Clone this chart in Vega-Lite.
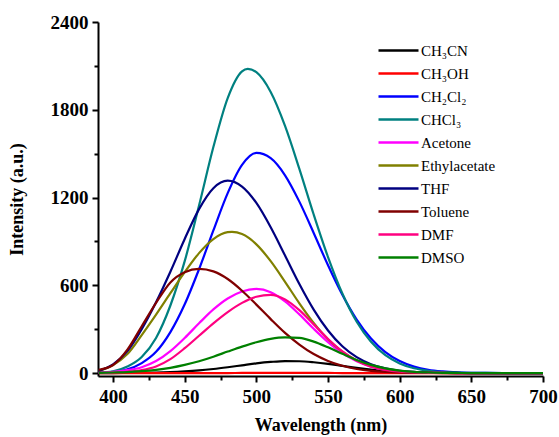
{
  "$schema": "https://vega.github.io/schema/vega-lite/v6.json",
  "width": 445,
  "height": 354,
  "autosize": {"type": "none"},
  "padding": {"left": 98, "top": 22, "right": 16, "bottom": 61},
  "background": "white",
  "config": {"view": {"stroke": null}, "font": "Liberation Serif"},
  "data": {"values": [
    {"x": 390, "CH₃CN": 0, "CH₃OH": 0, "CH₂Cl₂": 2, "CHCl₃": 3, "Acetone": 3, "Ethylacetate": 15, "THF": 15, "Toluene": 22, "DMF": 2, "DMSO": 1},
    {"x": 400, "CH₃CN": 0, "CH₃OH": 0, "CH₂Cl₂": 8, "CHCl₃": 12, "Acetone": 8, "Ethylacetate": 55, "THF": 60, "Toluene": 55, "DMF": 4, "DMSO": 4},
    {"x": 410, "CH₃CN": 1, "CH₃OH": 0, "CH₂Cl₂": 25, "CHCl₃": 45, "Acetone": 20, "Ethylacetate": 130, "THF": 150, "Toluene": 160, "DMF": 9, "DMSO": 7},
    {"x": 420, "CH₃CN": 2, "CH₃OH": 0, "CH₂Cl₂": 68, "CHCl₃": 110, "Acetone": 40, "Ethylacetate": 260, "THF": 300, "Toluene": 320, "DMF": 20, "DMSO": 13},
    {"x": 430, "CH₃CN": 3, "CH₃OH": 0, "CH₂Cl₂": 145, "CHCl₃": 240, "Acetone": 82, "Ethylacetate": 400, "THF": 484, "Toluene": 480, "DMF": 45, "DMSO": 22},
    {"x": 440, "CH₃CN": 6, "CH₃OH": 0, "CH₂Cl₂": 280, "CHCl₃": 462, "Acetone": 150, "Ethylacetate": 546, "THF": 693, "Toluene": 620, "DMF": 95, "DMSO": 36},
    {"x": 450, "CH₃CN": 11, "CH₃OH": 0, "CH₂Cl₂": 470, "CHCl₃": 765, "Acetone": 240, "Ethylacetate": 690, "THF": 917, "Toluene": 690, "DMF": 170, "DMSO": 56},
    {"x": 460, "CH₃CN": 18, "CH₃OH": 0, "CH₂Cl₂": 710, "CHCl₃": 1145, "Acetone": 340, "Ethylacetate": 820, "THF": 1121, "Toluene": 712, "DMF": 255, "DMSO": 81},
    {"x": 470, "CH₃CN": 28, "CH₃OH": 0, "CH₂Cl₂": 975, "CHCl₃": 1545, "Acetone": 435, "Ethylacetate": 916, "THF": 1264, "Toluene": 695, "DMF": 340, "DMSO": 112},
    {"x": 480, "CH₃CN": 40, "CH₃OH": 0, "CH₂Cl₂": 1230, "CHCl₃": 1880, "Acetone": 510, "Ethylacetate": 963, "THF": 1315, "Toluene": 643, "DMF": 417, "DMSO": 147},
    {"x": 483, "Ethylacetate": 965},
    {"x": 490, "CH₃CN": 53, "CH₃OH": 1, "CH₂Cl₂": 1423, "CHCl₃": 2063, "Acetone": 558, "Ethylacetate": 950, "THF": 1275, "Toluene": 563, "DMF": 480, "DMSO": 181},
    {"x": 494, "CHCl₃": 2080},
    {"x": 500, "CH₃CN": 66, "CH₃OH": 1, "CH₂Cl₂": 1505, "CHCl₃": 2057, "Acetone": 575, "Ethylacetate": 880, "THF": 1163, "Toluene": 468, "DMF": 522, "DMSO": 211},
    {"x": 510, "CH₃CN": 76, "CH₃OH": 1, "CH₂Cl₂": 1469, "CHCl₃": 1922, "Acetone": 553, "Ethylacetate": 765, "THF": 997, "Toluene": 369, "DMF": 535, "DMSO": 234},
    {"x": 520, "CH₃CN": 82, "CH₃OH": 1, "CH₂Cl₂": 1352, "CHCl₃": 1690, "Acetone": 490, "Ethylacetate": 624, "THF": 804, "Toluene": 275, "DMF": 504, "DMSO": 244},
    {"x": 530, "CH₃CN": 81, "CH₃OH": 1, "CH₂Cl₂": 1172, "CHCl₃": 1396, "Acetone": 401, "Ethylacetate": 477, "THF": 609, "Toluene": 195, "DMF": 430, "DMSO": 240},
    {"x": 540, "CH₃CN": 74, "CH₃OH": 1, "CH₂Cl₂": 958, "CHCl₃": 1084, "Acetone": 303, "Ethylacetate": 343, "THF": 434, "Toluene": 130, "DMF": 333, "DMSO": 215},
    {"x": 550, "CH₃CN": 63, "CH₃OH": 1, "CH₂Cl₂": 737, "CHCl₃": 793, "Acetone": 212, "Ethylacetate": 231, "THF": 291, "Toluene": 83, "DMF": 233, "DMSO": 176},
    {"x": 560, "CH₃CN": 49, "CH₃OH": 0, "CH₂Cl₂": 535, "CHCl₃": 544, "Acetone": 136, "Ethylacetate": 146, "THF": 183, "Toluene": 50, "DMF": 148, "DMSO": 132},
    {"x": 570, "CH₃CN": 35, "CH₃OH": 0, "CH₂Cl₂": 366, "CHCl₃": 351, "Acetone": 81, "Ethylacetate": 86, "THF": 109, "Toluene": 28, "DMF": 85, "DMSO": 90},
    {"x": 580, "CH₃CN": 23, "CH₃OH": 0, "CH₂Cl₂": 236, "CHCl₃": 214, "Acetone": 44, "Ethylacetate": 48, "THF": 61, "Toluene": 15, "DMF": 44, "DMSO": 56},
    {"x": 590, "CH₃CN": 14, "CH₃OH": 0, "CH₂Cl₂": 143, "CHCl₃": 122, "Acetone": 22, "Ethylacetate": 25, "THF": 32, "Toluene": 8, "DMF": 21, "DMSO": 32},
    {"x": 600, "CH₃CN": 8, "CH₃OH": 0, "CH₂Cl₂": 82, "CHCl₃": 66, "Acetone": 10, "Ethylacetate": 12, "THF": 16, "Toluene": 4, "DMF": 9, "DMSO": 17},
    {"x": 610, "CH₃CN": 4, "CH₃OH": 0, "CH₂Cl₂": 44, "CHCl₃": 33, "Acetone": 4, "Ethylacetate": 6, "THF": 8, "Toluene": 2, "DMF": 4, "DMSO": 8},
    {"x": 620, "CH₃CN": 2, "CH₃OH": 0, "CH₂Cl₂": 22, "CHCl₃": 16, "Acetone": 2, "Ethylacetate": 3, "THF": 4, "Toluene": 1, "DMF": 2, "DMSO": 4},
    {"x": 630, "CH₃CN": 1, "CH₃OH": 0, "CH₂Cl₂": 11, "CHCl₃": 7, "Acetone": 1, "Ethylacetate": 1, "THF": 2, "Toluene": 0, "DMF": 1, "DMSO": 2},
    {"x": 640, "CH₃CN": 0, "CH₃OH": 0, "CH₂Cl₂": 5, "CHCl₃": 3, "Acetone": 0, "Ethylacetate": 0, "THF": 1, "Toluene": 0, "DMF": 0, "DMSO": 1},
    {"x": 650, "CH₃CN": 0, "CH₃OH": 0, "CH₂Cl₂": 2, "CHCl₃": 2, "Acetone": 0, "Ethylacetate": 0, "THF": 0, "Toluene": 0, "DMF": 0, "DMSO": 0},
    {"x": 660, "CH₃CN": 0, "CH₃OH": 0, "CH₂Cl₂": 1, "CHCl₃": 1, "Acetone": 0, "Ethylacetate": 0, "THF": 0, "Toluene": 0, "DMF": 0, "DMSO": 0},
    {"x": 680, "CH₃CN": 0, "CH₃OH": 0, "CH₂Cl₂": 0, "CHCl₃": 0, "Acetone": 0, "Ethylacetate": 0, "THF": 0, "Toluene": 0, "DMF": 0, "DMSO": 0},
    {"x": 700, "CH₃CN": 0, "CH₃OH": 0, "CH₂Cl₂": 0, "CHCl₃": 0, "Acetone": 0, "Ethylacetate": 0, "THF": 0, "Toluene": 0, "DMF": 0, "DMSO": 0}
  ]},
  "transform": [
    {"fold": ["CH₃CN", "CH₃OH", "CH₂Cl₂", "CHCl₃", "Acetone", "Ethylacetate", "THF", "Toluene", "DMF", "DMSO"], "as": ["s", "y"]},
    {"filter": "isValid(datum.y)"}
  ],
  "mark": {"type": "line", "interpolate": "monotone", "strokeWidth": 2.2},
  "encoding": {
    "x": {
      "field": "x", "type": "quantitative",
      "scale": {"domain": [389.5, 700], "nice": false, "zero": false},
      "axis": {
        "title": "Wavelength (nm)",
        "values": [400, 425, 450, 475, 500, 525, 550, 575, 600, 625, 650, 675, 700],
        "labelExpr": "datum.value % 50 === 0 ? datum.label : ''",
        "grid": false, "labelFlush": false, "labelOverlap": false,
        "domainColor": "black", "domainWidth": 2,
        "tickColor": "black", "tickWidth": 2,
        "tickSize": {"condition": {"test": "datum.value % 50 === 0", "value": 6}, "value": 4},
        "labelFont": "Liberation Serif", "labelFontWeight": "bold", "labelFontSize": 19, "labelColor": "black", "labelPadding": 5,
        "titleFont": "Liberation Serif", "titleFontWeight": "bold", "titleFontSize": 18, "titleColor": "black", "titlePadding": 10
      }
    },
    "y": {
      "field": "y", "type": "quantitative",
      "scale": {"domain": [-20, 2400], "nice": false, "zero": false},
      "axis": {
        "title": "Intensity (a.u.)",
        "values": [0, 300, 600, 900, 1200, 1500, 1800, 2100, 2400],
        "format": "d",
        "labelExpr": "datum.value % 600 === 0 ? datum.label : ''",
        "grid": false, "labelFlush": false, "labelOverlap": false,
        "domainColor": "black", "domainWidth": 2,
        "tickColor": "black", "tickWidth": 2,
        "tickSize": {"condition": {"test": "datum.value % 600 === 0", "value": 6}, "value": 4},
        "labelFont": "Liberation Serif", "labelFontWeight": "bold", "labelFontSize": 19, "labelColor": "black", "labelPadding": 4,
        "titleFont": "Liberation Serif", "titleFontWeight": "bold", "titleFontSize": 18, "titleColor": "black", "titlePadding": 24
      }
    },
    "color": {
      "field": "s", "type": "nominal",
      "scale": {
        "domain": ["CH₃CN", "CH₃OH", "CH₂Cl₂", "CHCl₃", "Acetone", "Ethylacetate", "THF", "Toluene", "DMF", "DMSO"],
        "range": ["#000000", "#ff0000", "#0000ff", "#008080", "#ff00ff", "#808000", "#000080", "#800000", "#ff0080", "#008000"]
      },
      "legend": {
        "orient": "none", "legendX": 279, "legendY": 21, "title": null, "padding": 0,
        "symbolType": "stroke", "symbolSize": 1600, "symbolStrokeWidth": 2.5,
        "labelFont": "Liberation Serif", "labelFontSize": 15, "labelColor": "black", "labelOffset": 1,
        "clipHeight": 15, "rowPadding": 7
      }
    }
  }
}
